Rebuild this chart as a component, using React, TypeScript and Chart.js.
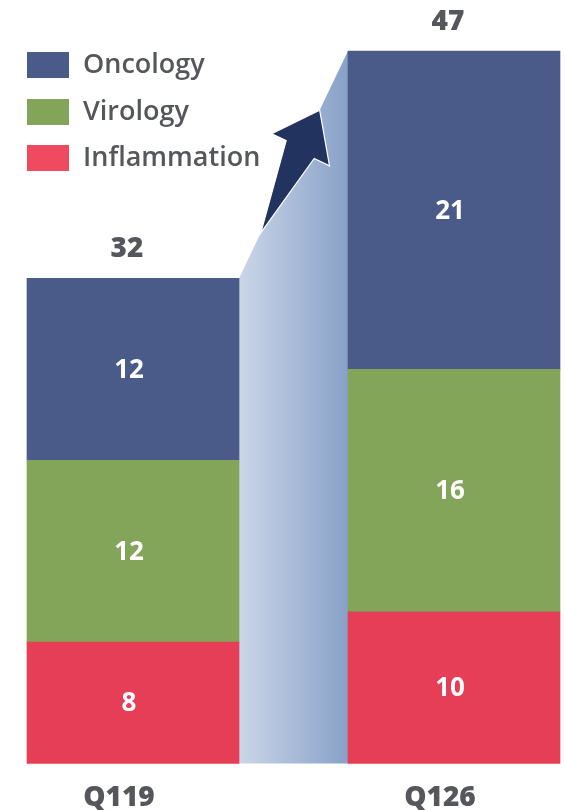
import React, { useEffect, useRef } from 'react';
import { Chart, registerables } from 'chart.js';

Chart.register(...registerables);

const categories = ['Q119', 'Q126'];
const inflammation = [8, 10];
const virology = [12, 16];
const oncology = [12, 21];
const totals = [32, 47];
const seriesNames = ['Oncology', 'Virology', 'Inflammation'];

const FONT = '"Open Sans", "Noto Sans", sans-serif';
const GREY = '#55575c';
const COL_ONC = '#4a5b8a';
const COL_VIR = '#83a55a';
const COL_INF = '#e63e56';
const LEGEND_COLORS = [COL_ONC, COL_VIR, '#ef4a5f'];

const connectorPlugin = {
  id: 'connector',
  beforeDatasetsDraw(chart: any) {
    const topMeta = chart.getDatasetMeta(2).data;
    const botMeta = chart.getDatasetMeta(0).data;
    if (!topMeta.length) return;
    const b1 = topMeta[0];
    const b2 = topMeta[1];
    const x1 = b1.x + b1.width / 2;
    const y1 = b1.y;
    const x2 = b2.x - b2.width / 2;
    const y2 = b2.y;
    const base = botMeta[0].base;
    const ctx = chart.ctx;
    ctx.save();
    const g = ctx.createLinearGradient(x1, 0, x2, 0);
    g.addColorStop(0, '#cbd6e8');
    g.addColorStop(1, '#88a1c8');
    ctx.fillStyle = g;
    ctx.beginPath();
    ctx.moveTo(x1, y1);
    ctx.lineTo(x2, y2);
    ctx.lineTo(x2, base);
    ctx.lineTo(x1, base);
    ctx.closePath();
    ctx.fill();
    ctx.restore();
  },
  afterDatasetsDraw(chart: any) {
    const topMeta = chart.getDatasetMeta(2).data;
    if (!topMeta.length) return;
    const b1 = topMeta[0];
    const b2 = topMeta[1];
    const ax = b1.x + b1.width / 2;
    const ay = b1.y;
    const bx = b2.x - b2.width / 2;
    const by = b2.y;
    const len = Math.hypot(bx - ax, by - ay);
    const ux = (bx - ax) / len;
    const uy = (by - ay) / len;
    const nx = uy;
    const ny = -ux;
    const sgn = nx < 0 ? 1 : -1;
    const pt = (s: number, t: number) => [ax + ux * s + sgn * nx * t, ay + uy * s + sgn * ny * t];
    const tipS = len * 0.74;
    const baseS = tipS - 44;
    const tailS = len * 0.2;
    const pts = [
      pt(tailS, 0),
      pt(baseS + 2, 17),
      pt(baseS + 2, 33),
      pt(tipS, 0),
      pt(baseS - 2, -33),
      pt(baseS - 2, -16),
    ];
    const ctx = chart.ctx;
    ctx.save();
    ctx.beginPath();
    ctx.moveTo(pts[0][0], pts[0][1]);
    for (let i = 1; i < pts.length; i++) ctx.lineTo(pts[i][0], pts[i][1]);
    ctx.closePath();
    ctx.fillStyle = '#21335e';
    ctx.fill();
    ctx.strokeStyle = '#ffffff';
    ctx.lineWidth = 1.2;
    ctx.stroke();
    ctx.restore();
  },
};

const labelsPlugin = {
  id: 'barLabels',
  afterDatasetsDraw(chart: any) {
    const ctx = chart.ctx;
    ctx.save();
    ctx.textAlign = 'center';
    ctx.textBaseline = 'middle';
    chart.data.datasets.forEach((ds: any, di: number) => {
      const meta = chart.getDatasetMeta(di);
      meta.data.forEach((el: any, i: number) => {
        const cy = (el.y + el.base) / 2;
        ctx.fillStyle = '#ffffff';
        ctx.font = `700 26px ${FONT}`;
        ctx.fillText(String(ds.data[i]), el.x - 4, cy + 1);
      });
    });
    const topMeta = chart.getDatasetMeta(chart.data.datasets.length - 1).data;
    topMeta.forEach((el: any, i: number) => {
      ctx.fillStyle = GREY;
      ctx.font = `800 28px ${FONT}`;
      ctx.fillText(String(totals[i]), el.x - 6, el.y - 29);
    });
    ctx.restore();
  },
  afterDraw(chart: any) {
    const ctx = chart.ctx;
    ctx.save();
    const ys = [52, 99, 145];
    seriesNames.forEach((name, i) => {
      ctx.fillStyle = LEGEND_COLORS[i];
      ctx.fillRect(27, ys[i], 42, 26);
      ctx.fillStyle = GREY;
      ctx.font = `600 27px ${FONT}`;
      ctx.textAlign = 'left';
      ctx.textBaseline = 'middle';
      ctx.fillText(name, 83, ys[i] + 13);
    });
    ctx.restore();
  },
};

export default function App() {
  const ref = useRef<HTMLCanvasElement | null>(null);
  useEffect(() => {
    if (!ref.current) return;
    const chart = new Chart(ref.current, {
      type: 'bar',
      data: {
        labels: categories,
        datasets: [
          { label: 'Inflammation', data: inflammation, backgroundColor: COL_INF },
          { label: 'Virology', data: virology, backgroundColor: COL_VIR },
          { label: 'Oncology', data: oncology, backgroundColor: COL_ONC },
        ],
      },
      options: {
        responsive: false,
        animation: false,
        devicePixelRatio: 1,
        layout: { padding: { left: 133, right: 111, top: 51, bottom: 0 } },
        datasets: { bar: { barThickness: 212, clip: false as any } },
        plugins: { legend: { display: false }, tooltip: { enabled: false } },
        scales: {
          x: {
            stacked: true,
            offset: false,
            grid: { display: false, drawTicks: false },
            border: { display: false },
            ticks: {
              color: GREY,
              padding: 18,
              labelOffset: -14,
              font: { family: FONT, size: 28, weight: '800' as any, lineHeight: 1.2 },
            },
          },
          y: {
            stacked: true,
            display: false,
            min: 0,
            max: Math.max(...totals),
          },
        },
      },
      plugins: [connectorPlugin, labelsPlugin],
    });
    (document as any).fonts?.load?.(`800 28px "Open Sans"`).then(() => chart.update()).catch(() => {});
    return () => chart.destroy();
  }, []);
  return (
    <div style={{ position: 'fixed', left: 0, top: 0, width: 565, height: 810, overflow: 'hidden', background: '#fff' }}>
      <canvas ref={ref} width={565} height={833} style={{ width: 565, height: 833, display: 'block' }} />
    </div>
  );
}
